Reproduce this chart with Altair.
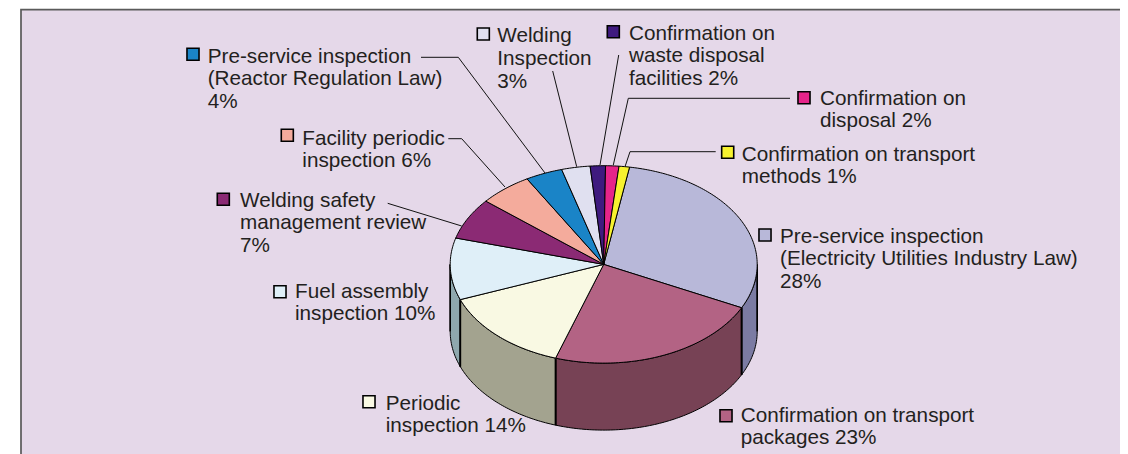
import math
import altair as alt
import pandas as pd

# ---- data -------------------------------------------------------------
categories = [
    "Pre-service inspection (Electricity Utilities Industry Law)",
    "Confirmation on transport packages",
    "Periodic inspection",
    "Fuel assembly inspection",
    "Welding safety management review",
    "Facility periodic inspection",
    "Pre-service inspection (Reactor Regulation Law)",
    "Welding Inspection",
    "Confirmation on waste disposal facilities",
    "Confirmation on disposal",
    "Confirmation on transport methods",
]
# slice shares as drawn (the perspective of the original widens some slightly)
shares = [29.5, 22.8, 14.1, 10.1, 6.75, 5.6, 3.9, 3.0, 1.6, 1.4, 1.1]
top_colors = ["#b8b8d9", "#b36384", "#f9f9e3", "#dfeff8", "#8b2a74", "#f4ab9c",
              "#1a84c7", "#e0e0f0", "#3f1a7f", "#e6248a", "#f7f22f"]
side_colors = ["#7b7ba3", "#774255", "#a3a38f", "#8fa8ae"]
label_lines = [
    ["Pre-service inspection", "(Electricity Utilities Industry Law)", "28%"],
    ["Confirmation on transport", "packages 23%"],
    ["Periodic", "inspection 14%"],
    ["Fuel assembly", "inspection 10%"],
    ["Welding safety", "management review", "7%"],
    ["Facility periodic", "inspection 6%"],
    ["Pre-service inspection", "(Reactor Regulation Law)", "4%"],
    ["Welding", "Inspection", "3%"],
    ["Confirmation on", "waste disposal", "facilities 2%"],
    ["Confirmation on", "disposal 2%"],
    ["Confirmation on transport", "methods 1%"],
]

# ---- layout (page pixel space, mapped through the linear scales) --------
label_x = [780, 740.7, 385.7, 295, 240, 302.3, 207.7, 497.3, 629, 820, 741.7]
label_y = [242.7, 421.7, 410, 298.3, 206.7, 145, 62.7, 41.7, 40, 105, 160.7]
label_step = [22.4, 22, 22, 22, 22.4, 22, 22.4, 23.3, 22.4, 22, 22.4]
key_x = [765, 726, 369, 280, 223.3, 287.3, 193, 483.3, 613.3, 804, 727.7]
key_y = [235, 415.7, 401.7, 291.7, 199.3, 135.3, 54.3, 34, 31.7, 97.7, 152.3]
leaders = [
    [(421, 57.3), (458.3, 57.3), (545, 173)],
    [(448.3, 138.7), (461.7, 138.7), (505, 187)],
    [(387.7, 203.3), (461.7, 226)],
    [(790, 98.3), (628.3, 98.3), (613.3, 165)],
    [(715.7, 151.7), (630, 151.7), (625, 166.7)],
    [(618.7, 55), (600, 165)],
    [(552.7, 71), (576.7, 166.7)],
]
CX, CY, RX, RY, DEPTH, START = 603.7, 264.4, 153.5, 98.7, 67, 9.7
BG, INK = "#e5d8e9", "#231f20"
FONT = "Liberation Sans"
FONT_SIZE = 20.7

# ---- geometry derived from the values -----------------------------------
def pt(deg, drop=0):
    r = math.radians(deg)
    return CX + RX * math.sin(r), CY - RY * math.cos(r) + drop

total = sum(shares)
edges = [START]
for s in shares:
    edges.append(edges[-1] + s / total * 360)

def arc(a0, a1):
    n = max(2, int(abs(a1 - a0)) + 1)
    return [a0 + (a1 - a0) * i / n for i in range(n + 1)]

top_rows, wall_rows, edge_rows = [], [], []
for i, (a0, a1) in enumerate(zip(edges, edges[1:])):
    poly = [(CX, CY)] + [pt(a) for a in arc(a0, a1)] + [(CX, CY)]
    for k, (x, y) in enumerate(poly):
        top_rows.append(dict(slice=i, k=k, x=x, y=y, fill=top_colors[i]))

side_index = 0
for i, (a0, a1) in enumerate(zip(edges, edges[1:])):
    lo, hi = max(a0, 90), min(a1, 270)
    if lo >= hi:
        continue
    angles = arc(lo, hi)
    poly = [pt(a) for a in angles] + [pt(a, DEPTH) for a in reversed(angles)]
    poly.append(poly[0])
    for k, (x, y) in enumerate(poly):
        wall_rows.append(dict(slice=i, k=k, x=x, y=y, fill=side_colors[side_index]))
    side_index += 1
    for a in (lo, hi):
        for j, d in enumerate((0, DEPTH)):
            x, y = pt(a, d)
            edge_rows.append(dict(edge=f"{i}-{a}", k=j, x=x, y=y))

text_rows = []
for i, lines in enumerate(label_lines):
    for j, t in enumerate(lines):
        text_rows.append(dict(x=label_x[i], y=label_y[i] + j * label_step[i], text=t))
key_rows = [dict(x=x, y=y, fill=c, name=n)
            for x, y, c, n in zip(key_x, key_y, top_colors, categories)]
leader_rows = [dict(id=i, k=k, x=p[0], y=p[1])
               for i, l in enumerate(leaders) for k, p in enumerate(l)]
frame_rows = [dict(id=0, k=0, x=21, y=454), dict(id=0, k=1, x=21, y=9.6),
              dict(id=0, k=2, x=1120, y=9.6)]

# ---- chart --------------------------------------------------------------
X = alt.X("x:Q", axis=None, scale=alt.Scale(domain=[8, 1120], nice=False, zero=False))
Y = alt.Y("y:Q", axis=None, scale=alt.Scale(domain=[454, 8], nice=False, zero=False))

panel = alt.Chart(pd.DataFrame([dict(x=21, x2=1120, y=9.6, y2=454)])).mark_rect(color=BG).encode(
    x=X, x2="x2:Q", y=Y, y2="y2:Q")
frame = alt.Chart(pd.DataFrame(frame_rows)).mark_line(color="#5a5a5a", strokeWidth=1.7).encode(
    x=X, y=Y, order="k:Q")
walls = alt.Chart(pd.DataFrame(wall_rows)).mark_line(stroke="#000000", strokeWidth=1).encode(
    x=X, y=Y, order="k:Q", detail="slice:N", fill=alt.Fill("fill:N", scale=None))
wall_edges = alt.Chart(pd.DataFrame(edge_rows)).mark_line(color="#000000", strokeWidth=1.6).encode(
    x=X, y=Y, order="k:Q", detail="edge:N")
tops = alt.Chart(pd.DataFrame(top_rows)).mark_line(stroke="#000000", strokeWidth=1, strokeJoin="round").encode(
    x=X, y=Y, order="k:Q", detail="slice:N", fill=alt.Fill("fill:N", scale=None))
lead = alt.Chart(pd.DataFrame(leader_rows)).mark_line(color="#111111", strokeWidth=1).encode(
    x=X, y=Y, order="k:Q", detail="id:N")
keys = alt.Chart(pd.DataFrame(key_rows)).mark_point(
    shape="square", size=145, filled=True, opacity=1, stroke="#000000", strokeWidth=1.6
).encode(x=X, y=Y, fill=alt.Fill("fill:N", scale=None))
texts = alt.Chart(pd.DataFrame(text_rows)).mark_text(
    align="left", baseline="alphabetic", font=FONT, fontSize=FONT_SIZE, color=INK
).encode(x=X, y=Y, text="text:N")

chart = alt.layer(panel, frame, lead, walls, wall_edges, tops, keys, texts).properties(
    width=1112, height=446, padding=0, background="#ffffff",
    autosize=alt.AutoSizeParams(type="none")
).configure_view(stroke=None)

chart.save("out.html", embed_options={"renderer": "svg", "actions": False})
